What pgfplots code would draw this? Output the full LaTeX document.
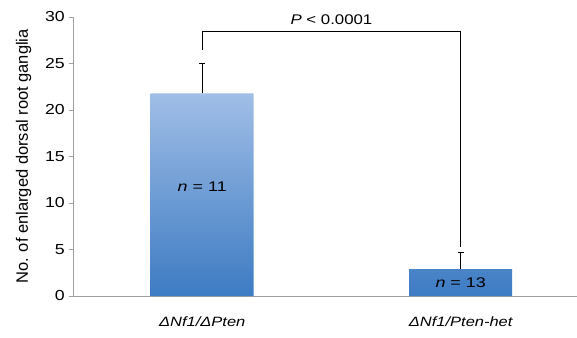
\documentclass[border=0pt]{standalone}
\usepackage{pgfplots}
\pgfplotsset{compat=1.18}
\usepackage{fontspec}
\setmainfont{Liberation Sans}
\definecolor{barTop}{HTML}{A0BEE6}
\definecolor{barBot}{HTML}{3D7BC3}
\definecolor{axgray}{HTML}{A0A0A0}
\begin{document}
\begin{tikzpicture}
\begin{axis}[
  name=ax,
  scale only axis,
  width=504pt, height=279pt,
  xmin=-0.5, xmax=1.45,
  ymin=0, ymax=30,
  axis lines*=left,
  axis line style={axgray, line width=0.8pt},
  ytick={0,5,...,30},
  ytick style={axgray, line width=0.8pt},
  major tick length=4pt,
  tick align=outside,
  xtick={0,1},
  xticklabels={{\itshape ΔNf1/ΔPten},{\itshape ΔNf1/Pten-het}},
  xtick style={draw=none},
  extra x ticks={0.5},
  extra x tick labels={},
  extra x tick style={tick style={axgray, line width=0.8pt, draw=axgray}, major tick length=5pt},
  x tick label style={yshift=-13pt, font=\fontsize{13.5}{15}\selectfont, xscale=1.22},
  y tick label style={font=\fontsize{14.5}{16}\selectfont, xscale=1.22},
  /pgf/number format/assume math mode=true,
  ylabel={No. of enlarged dorsal root ganglia},
  ylabel style={font=\fontsize{16.5}{18}\selectfont, yshift=6pt},
  clip=false,
]
\addplot[ybar, bar width=103pt, draw=none, top color=barTop, bottom color=barBot,
  error bars/.cd, y dir=plus, y explicit, error bar style={black, line width=0.8pt},
  error mark options={rotate=90, mark size=3pt, black, line width=0.8pt}]
  coordinates {(0,21.8) +- (0,3.2) (1,2.9) +- (0,1.8)};
\addplot[black, line width=1.1pt, mark=none] coordinates {(0,26.5) (0,28.4) (1,28.4) (1,5.3)};
\node[font=\fontsize{14}{16}\selectfont, xscale=1.2] at (axis cs:0.5,29.7) {\textit{P} < 0.0001};
\node[font=\fontsize{14}{16}\selectfont, xscale=1.28] at (axis cs:0,11.8) {\textit{n} = 11};
\node[font=\fontsize{14}{16}\selectfont, xscale=1.28] at (axis cs:1,1.4) {\textit{n} = 13};
\end{axis}
\pgfresetboundingbox
\path ([shift={(-73pt,-41pt)}]ax.south west) rectangle ([shift={(0pt,17pt)}]ax.north east);
\end{tikzpicture}
\end{document}
